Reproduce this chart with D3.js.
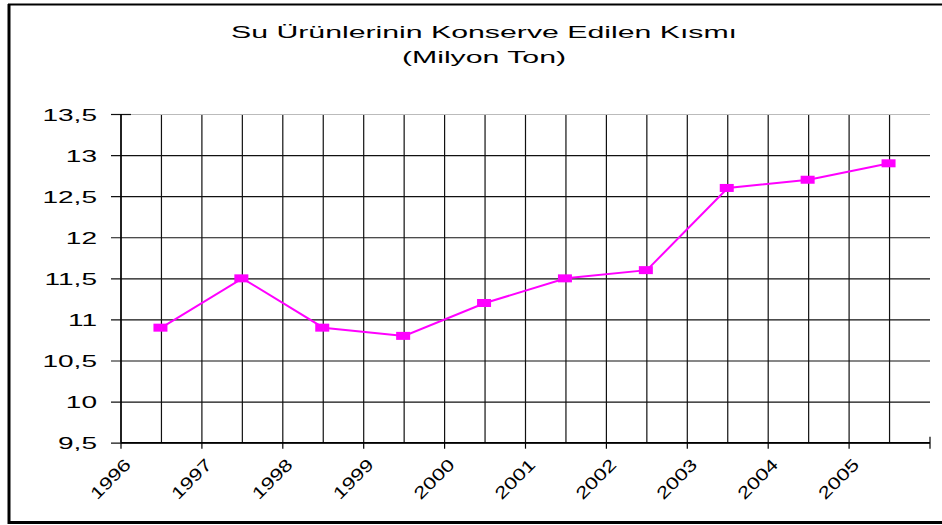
<!DOCTYPE html>
<html>
<head>
<meta charset="utf-8">
<script src="https://cdn.jsdelivr.net/npm/d3@7"></script>
<style>
  body { margin: 0; background: #fff; }
  svg text { font-family: "Liberation Sans", Arial, sans-serif; fill: #000; }
</style>
</head>
<body>
<div id="chart"></div>
<script>
(function () {
  "use strict";

  // chart data
  var years = ["1996", "1997", "1998", "1999", "2000", "2001", "2002", "2003", "2004", "2005"];
  var values = [10.9, 11.5, 10.9, 10.8, 11.2, 11.5, 11.6, 12.6, 12.7, 12.9];
  var yTicks = [9.5, 10, 10.5, 11, 11.5, 12, 12.5, 13, 13.5];
  var titleLines = ["Su Ürünlerinin Konserve Edilen Kısmı", "(Milyon Ton)"];

  var width = 942, height = 525;
  var left = 121, right = 930, top = 114, bottom = 442.7;
  var stretch = 1.78, labelStretch = 1.65;

  var svg = d3.select("#chart")
    .append("svg")
    .attr("width", width)
    .attr("height", height);

  // outer frame (left, top, bottom edges)
  svg.append("line")
    .attr("x1", 8).attr("x2", 942)
    .attr("y1", 4.5).attr("y2", 4.5)
    .attr("stroke", "#000").attr("stroke-width", 2);
  svg.append("line")
    .attr("x1", 8).attr("x2", 942)
    .attr("y1", 522.5).attr("y2", 522.5)
    .attr("stroke", "#000").attr("stroke-width", 3);
  svg.append("line")
    .attr("x1", 9).attr("x2", 9)
    .attr("y1", 4).attr("y2", 524)
    .attr("stroke", "#000").attr("stroke-width", 3);

  // title
  svg.selectAll(".title")
    .data(titleLines)
    .enter()
    .append("text")
    .attr("class", "title")
    .attr("text-anchor", "middle")
    .attr("font-size", 17)
    .attr("transform", function (d, i) {
      return "translate(484," + (38 + i * 24.5) + ") scale(" + stretch + ",1)";
    })
    .text(function (d) { return d; });

  var x = d3.scaleBand().domain(years).range([left, right]).padding(0);
  var y = d3.scaleLinear().domain([9.5, 13.5]).range([bottom, top]);
  var bw = x.bandwidth();
  var fmt = d3.formatLocale({ decimal: ",", thousands: ".", grouping: [3], currency: ["", ""] }).format("");

  // vertical grid: band starts and band centres
  var vLines = [];
  years.forEach(function (yr) {
    vLines.push(x(yr));
    vLines.push(x(yr) + bw / 2);
  });
  svg.append("g")
    .selectAll("line")
    .data(vLines)
    .enter()
    .append("line")
    .attr("x1", function (d) { return d; })
    .attr("x2", function (d) { return d; })
    .attr("y1", top)
    .attr("y2", bottom)
    .attr("stroke", "#111")
    .attr("stroke-width", 1.2);

  // horizontal grid + y labels
  var yAxis = svg.append("g")
    .attr("transform", "translate(" + left + ",0)")
    .call(d3.axisLeft(y)
      .tickValues(yTicks)
      .tickSize(-(right - left))
      .tickSizeOuter(0)
      .tickPadding(0)
      .tickFormat(fmt));
  yAxis.select(".domain").remove();
  yAxis.selectAll(".tick line")
    .attr("x1", -10)
    .attr("stroke", function (d) { return d === 13.5 ? "#bbb" : "#111"; })
    .attr("stroke-width", 1.2);
  yAxis.selectAll(".tick")
    .filter(function (d) { return d === 13.5; })
    .append("line")
    .attr("x1", -10).attr("x2", 10)
    .attr("stroke", "#111").attr("stroke-width", 1.2);
  yAxis.selectAll(".tick text")
    .attr("x", null)
    .attr("dy", null)
    .attr("fill", "#000")
    .attr("font-size", 17)
    .attr("font-family", "Liberation Sans, Arial, sans-serif")
    .attr("transform", "translate(-24,6) scale(" + labelStretch + ",1)");

  // axis lines
  svg.append("line")
    .attr("x1", left).attr("x2", left)
    .attr("y1", top).attr("y2", bottom)
    .attr("stroke", "#000").attr("stroke-width", 1.4);
  svg.append("line")
    .attr("x1", left).attr("x2", right)
    .attr("y1", bottom).attr("y2", bottom)
    .attr("stroke", "#000").attr("stroke-width", 1.4);

  // x ticks at band starts, plus end tick
  var tickX = years.map(function (yr) { return x(yr); });
  svg.append("g")
    .selectAll("line")
    .data(tickX)
    .enter()
    .append("line")
    .attr("x1", function (d) { return d; })
    .attr("x2", function (d) { return d; })
    .attr("y1", bottom)
    .attr("y2", bottom + 6)
    .attr("stroke", "#000").attr("stroke-width", 1.2);
  svg.append("line")
    .attr("x1", right).attr("x2", right)
    .attr("y1", bottom - 6).attr("y2", bottom + 6)
    .attr("stroke", "#000").attr("stroke-width", 1.2);

  // x labels (rotated)
  svg.append("g")
    .selectAll("text")
    .data(years)
    .enter()
    .append("text")
    .attr("text-anchor", "end")
    .attr("font-size", 17)
    .attr("transform", function (d) {
      return "translate(" + (x(d) + 11) + "," + (bottom + 23) + ") rotate(-45) scale(1.3,1)";
    })
    .text(function (d) { return d; });

  // series line
  var line = d3.line()
    .x(function (d, i) { return x(years[i]) + bw / 2; })
    .y(function (d) { return y(d); });

  svg.append("path")
    .datum(values)
    .attr("d", line)
    .attr("fill", "none")
    .attr("stroke", "#ff00ff")
    .attr("stroke-width", 2);

  svg.append("g")
    .selectAll("rect")
    .data(values)
    .enter()
    .append("rect")
    .attr("x", function (d, i) { return x(years[i]) + bw / 2 - 8; })
    .attr("y", function (d) { return y(d) - 4; })
    .attr("width", 14)
    .attr("height", 8)
    .attr("fill", "#ff00ff");
}());
</script>
</body>
</html>
